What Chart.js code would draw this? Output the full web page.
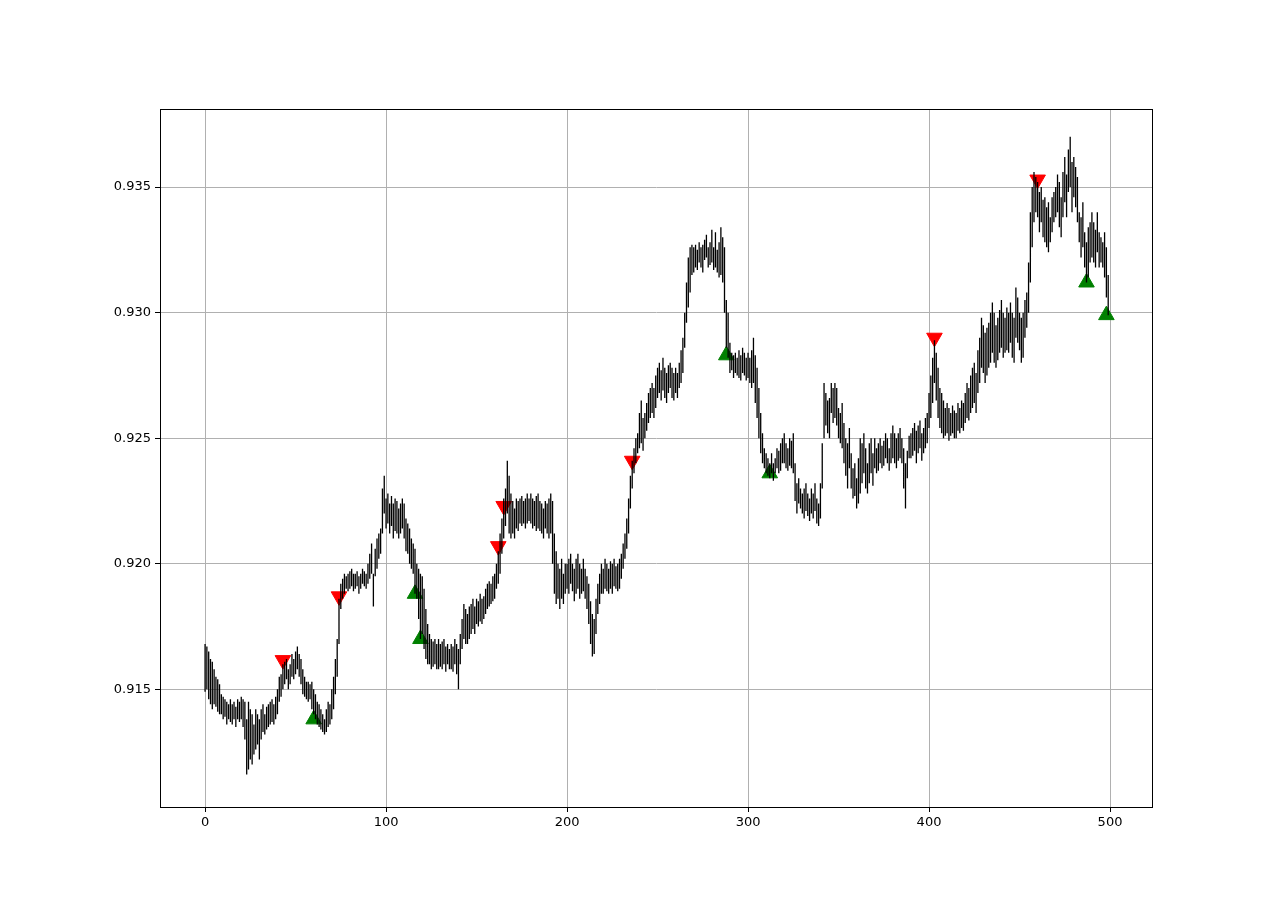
<!DOCTYPE html>
<html><head><script src="https://cdn.jsdelivr.net/npm/chart.js@4"></script>
<style>html,body{margin:0;background:#fff}#w{width:1280px;height:907px}</style></head>
<body><div id="w"><canvas id="c" width="1280" height="907"></canvas></div>
<script>
// prices = BASE + pips/10000
const BASE = 0.91;
const highPips = [68,67,65,62,61,58,55,54,52,48,47,46,45,44,46,44,45,43,46,45,47,46,45,38,45,42,40,36,42,40,38,42,44,40,43,44,45,46,44,47,50,55,56,60,61,62,58,60,64,62,65,67,64,62,58,55,53,53,52,53,50,48,45,44,42,40,38,42,45,44,50,55,62,70,86,92,94,96,95,96,97,98,96,96,97,95,96,98,97,96,100,104,108,96,106,110,112,114,130,135,126,128,124,127,124,126,125,122,124,126,124,118,116,114,110,108,106,100,98,96,95,90,82,76,72,70,69,70,68,70,68,69,70,67,68,66,68,67,70,68,66,72,78,84,82,80,83,84,86,83,86,85,88,86,87,90,92,93,92,95,96,100,105,112,118,126,130,141,135,128,125,122,126,125,126,127,125,126,128,126,128,126,125,127,128,125,124,122,125,124,126,128,125,112,105,100,98,102,96,100,100,102,104,100,98,102,104,100,98,102,98,95,92,85,80,78,86,92,96,100,98,102,100,98,101,100,102,99,100,102,104,108,112,118,126,135,141,146,150,152,160,165,158,160,164,168,170,172,170,175,178,180,177,182,178,176,179,180,178,176,178,176,180,185,190,200,212,222,226,227,226,227,225,228,226,227,229,231,226,228,233,226,232,225,228,234,230,226,205,200,188,184,183,184,182,185,183,186,184,182,184,182,185,190,183,178,170,160,152,146,144,142,140,144,140,142,146,145,148,150,152,148,146,150,149,152,140,132,134,130,128,130,132,128,126,130,128,132,126,124,132,148,172,168,165,166,172,170,172,170,162,160,164,156,150,148,154,144,138,140,134,142,150,148,152,146,140,148,150,144,150,146,148,150,147,149,152,150,146,152,155,152,150,152,154,150,146,140,145,151,152,154,156,153,155,157,152,154,158,160,168,175,182,189,184,178,170,168,165,162,164,162,160,163,161,160,164,162,165,164,168,172,170,175,178,180,176,185,190,198,195,192,194,196,200,204,200,195,198,201,205,200,198,202,200,204,200,198,210,206,200,198,200,205,208,220,240,250,256,254,252,248,250,245,246,242,244,238,246,248,250,255,252,246,256,262,255,265,270,260,262,258,254,240,238,244,232,228,234,236,240,236,233,240,232,230,228,232,226,215];
const lowPips = [49,50,46,44,42,44,43,41,40,40,38,39,36,38,37,36,38,35,38,37,38,35,30,16,18,22,20,24,26,28,22,30,33,32,34,35,36,37,36,38,40,45,47,50,52,54,50,52,55,54,56,58,55,52,48,47,46,45,46,42,40,38,36,35,34,33,32,33,35,36,38,42,48,55,68,82,86,88,90,89,90,91,89,90,91,88,90,92,91,90,92,94,96,83,95,98,102,104,112,120,114,116,112,115,110,113,112,110,112,114,110,105,104,100,98,96,88,86,78,70,72,66,62,60,60,58,59,60,58,58,59,58,60,57,60,58,58,57,60,56,50,60,66,70,68,68,70,72,74,72,76,75,77,76,78,80,82,83,84,85,86,90,92,96,104,110,115,120,112,110,112,110,114,113,116,115,116,114,116,117,116,114,115,113,114,113,112,110,114,112,110,112,100,88,84,86,82,86,84,88,90,88,92,89,85,88,90,86,88,89,86,82,76,68,63,64,72,80,84,88,88,90,89,88,90,88,91,90,89,90,94,98,102,106,112,122,130,136,140,144,146,148,145,150,153,156,158,160,158,162,166,168,165,169,166,164,168,170,166,165,168,166,170,172,176,186,196,202,208,215,216,218,217,220,218,216,221,222,218,219,220,217,218,216,214,215,212,200,186,182,176,177,174,176,175,174,173,176,175,173,174,172,170,172,164,158,150,144,140,138,136,135,134,136,133,136,138,136,137,140,140,138,137,139,138,136,125,120,124,122,120,118,121,119,117,120,118,121,116,115,118,130,150,155,152,150,160,156,158,155,150,148,146,140,135,130,138,130,126,127,122,124,128,132,136,130,128,132,136,131,138,136,137,140,138,139,142,140,137,140,142,140,138,141,142,140,130,122,134,142,142,143,145,140,144,146,141,144,146,148,154,158,164,172,165,158,154,152,150,151,152,149,151,152,150,150,153,152,154,153,156,158,157,160,162,164,160,168,172,178,176,172,175,178,180,184,180,178,181,184,186,182,184,185,184,188,182,180,190,188,185,180,182,190,194,200,212,226,236,240,238,232,236,230,228,226,224,228,232,236,238,240,234,230,238,244,238,248,250,240,246,242,236,228,222,226,218,212,214,220,222,220,218,224,218,220,218,214,206,199];
const sellIdx = [43,74,162,165,236,403,460];
const sellPips = [61.6,87,107,123,141,190,253];
const buyIdx = [60,116,119,288,312,487,498];
const buyPips = [38,88,70,183,136,212,199];
const yTicks = [0.915,0.92,0.925,0.93,0.935];

const p = v => BASE + v/10000;
const bars = [];
for (let i=0;i<highPips.length;i++){ bars.push({x:i,y:p(lowPips[i])},{x:i,y:p(highPips[i])},{x:i,y:NaN}); }
const font = {family:'DejaVu Sans', size:13};
const box = {id:'box',afterDraw(c){const a=c.chartArea,x=c.ctx;x.save();x.strokeStyle='#000';x.lineWidth=1;x.strokeRect(Math.round(a.left)+0.5,Math.round(a.top)+0.5,Math.round(a.right-a.left),Math.round(a.bottom-a.top));x.restore();}};
new Chart(document.getElementById('c'),{
 type:'line',
 data:{datasets:[
  {data:bars,borderColor:'#000',borderWidth:1.3,pointRadius:0,spanGaps:false,tension:0},
  {type:'scatter',data:sellIdx.map((x,k)=>({x,y:p(sellPips[k])})),pointStyle:'triangle',rotation:180,pointRadius:9,backgroundColor:'#ff0000',borderColor:'#ff0000'},
  {type:'scatter',data:buyIdx.map((x,k)=>({x,y:p(buyPips[k])})),pointStyle:'triangle',pointRadius:9,backgroundColor:'#008000',borderColor:'#008000'}
 ]},
 plugins:[box],
 options:{responsive:false,animation:false,
  layout:{padding:{left:0,top:109,right:128,bottom:0}},
  plugins:{legend:{display:false},tooltip:{enabled:false}},
  scales:{
   x:{type:'linear',min:-24.9,max:523.2,afterBuildTicks:a=>{a.ticks=[0,100,200,300,400,500].map(v=>({value:v}))},
      afterFit:a=>{a.height=100},
      grid:{color:'#b0b0b0',tickColor:'#000',tickLength:5},border:{color:'#000'},
      ticks:{color:'#000',font,maxRotation:0,padding:3}},
   y:{min:0.91031,max:0.93811,afterBuildTicks:a=>{a.ticks=yTicks.map(v=>({value:v}))},
      afterFit:a=>{a.width=160},
      grid:{color:'#b0b0b0',tickColor:'#000',tickLength:5},border:{color:'#000'},
      ticks:{color:'#000',font,padding:4,callback:v=>v.toFixed(3)}}
  }}
});
</script></body></html>
